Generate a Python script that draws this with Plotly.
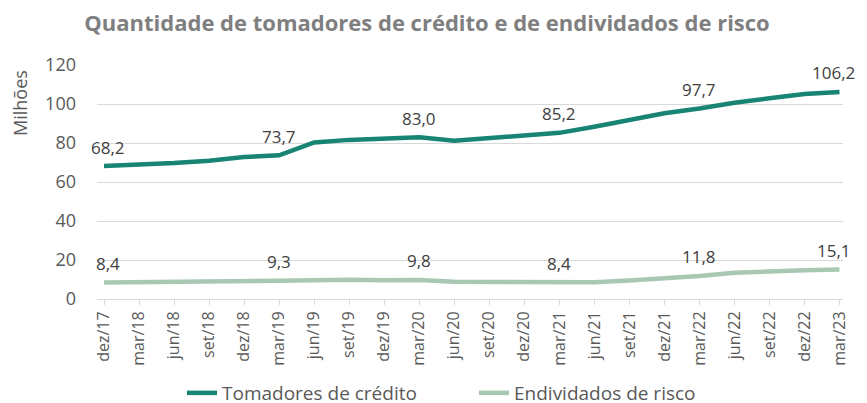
import plotly.graph_objects as go

trimestres = ["dez/17", "mar/18", "jun/18", "set/18", "dez/18", "mar/19", "jun/19", "set/19",
              "dez/19", "mar/20", "jun/20", "set/20", "dez/20", "mar/21", "jun/21", "set/21",
              "dez/21", "mar/22", "jun/22", "set/22", "dez/22", "mar/23"]

tomadores = [68.2, 68.9, 69.7, 70.9, 72.8, 73.7, 80.3, 81.6, 82.5, 83.0, 81.2, 82.7,
             84.1, 85.2, 88.3, 91.7, 95.3, 97.7, 100.6, 102.9, 105.1, 106.2]
endividados = [8.4, 8.5, 8.7, 8.8, 8.8, 9.3, 9.6, 9.9, 9.6, 9.8, 8.8, 8.7,
               8.4, 8.4, 8.6, 9.5, 10.6, 11.8, 13.4, 14.2, 14.8, 15.1]

# pontos com rótulo
rotulados = ["dez/17", "mar/19", "mar/20", "mar/21", "mar/22", "mar/23"]

cor_tom = "#188473"
cor_end = "#a8c8b2"
cor_txt = "#595959"

# a página tem 8px de margem no body: figura um pouco menor
W, H = 859, 395

fig = go.Figure()
for nome, vals, cor in [("Tomadores de crédito", tomadores, cor_tom),
                        ("Endividados de risco", endividados, cor_end)]:
    fig.add_trace(go.Scatter(
        x=trimestres, y=vals, name=nome, mode="lines",
        line=dict(color=cor, width=4.5), cliponaxis=False
    ))
    # rótulos de dados acima da linha
    for t, v in zip(trimestres, vals):
        if t in rotulados:
            dx = 4 if t == trimestres[0] else (-6 if t == trimestres[-1] else 0)
            fig.add_annotation(x=t, y=v, text=f"{v:.1f}".replace(".", ","),
                               showarrow=False, yshift=19, xshift=dx,
                               xanchor="center", yanchor="middle",
                               font=dict(size=17, color="#404040"))

fig.add_annotation(text="Milhões", textangle=-90, xref="paper", yref="paper",
                   x=-77 / 746, y=(299 - 103) / 234, xanchor="center", yanchor="middle",
                   showarrow=False, font=dict(size=18, color=cor_txt))

fig.update_layout(
    width=W, height=H,
    margin=dict(l=89, r=24, t=57, b=104, autoexpand=False),
    plot_bgcolor="white", paper_bgcolor="white",
    font=dict(family="Open Sans", color=cor_txt),
    title=dict(text="<b>Quantidade de tomadores de crédito e de endividados de risco</b>",
               x=419 / W, xanchor="center", y=1 - 15 / H, yanchor="middle",
               font=dict(size=22, color="#7f7f7f", family="Open Sans")),
    legend=dict(orientation="h", xref="container", yref="container",
                x=466 / W, xanchor="center", y=10 / H, yanchor="middle",
                font=dict(size=19, color=cor_txt), entrywidth=247, entrywidthmode="pixels"),
    showlegend=True,
)
fig.update_xaxes(
    type="category", range=[-0.2, 21.1], tickangle=-90,
    tickfont=dict(size=16, color=cor_txt),
    showgrid=False, showline=True, linecolor="#d9d9d9", linewidth=1,
    ticks="outside", ticklen=5, tickcolor="#d9d9d9", automargin=False
)
fig.update_yaxes(
    range=[0, 120], dtick=20, tickfont=dict(size=18, color=cor_txt),
    showgrid=True, gridcolor="#d9d9d9", gridwidth=1, zeroline=False,
    ticklabelstandoff=20, automargin=False
)

fig.write_html("out.html")
